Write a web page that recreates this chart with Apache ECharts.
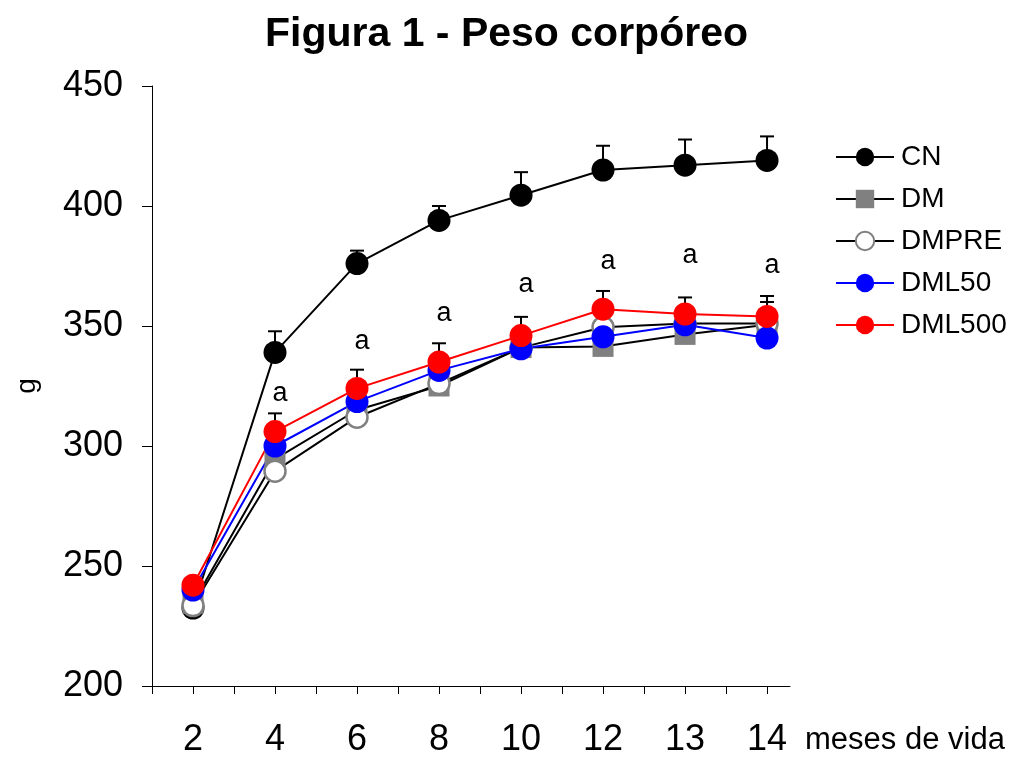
<!DOCTYPE html>
<html>
<head>
<meta charset="utf-8">
<title>Figura 1 - Peso corpóreo</title>
<script src="https://cdn.jsdelivr.net/npm/echarts@6/dist/echarts.min.js"></script>
<style>
  html, body { margin: 0; padding: 0; background: #fff; }
  #chart { width: 1013px; height: 758px; }
</style>
</head>
<body>
<div id="chart"></div>
<script>
// Age in months (x categories)
var months = ['2', '4', '6', '8', '10', '12', '13', '14'];

// Mean body weight (g) per group
var CN     = [232.5, 339, 376, 394, 404.5, 415, 417, 419];
var DM     = [234.5, 294.5, 315, 325, 341, 341.5, 346.5, 350.5];
var DMPRE  = [233.5, 289.5, 312, 326, 341, 349.5, 351, 351];
var DML50  = [240, 300, 318.5, 331.5, 340.5, 345.5, 350.5, 345];
var DML500 = [242, 306, 324, 335, 346, 357, 355, 354];

// Upper error (SEM) drawn above the mean
var errCN     = [null, 8.8, 5.4, 6, 9.6, 10.1, 10.7, 10];
var errDM     = [null, null, null, null, null, null, null, 9.5];
var errDML500 = [null, 7.6, 7.8, 7.8, 7.8, 7.6, 6.9, 8.5];

// Height (g) at which the significance letter "a" is written
var sigMark = [null, 322, 343.5, 355.3, 367.2, 376.8, 379.3, 375.1];

// y axis range
var yMin = 200, yMax = 450, yStep = 50;

var FONT = "'Liberation Sans', Arial, sans-serif";

function pairs(values) {
  return values.map(function (v, i) { return [i + 1, v]; });
}
function errData(means, errs) {
  var out = [];
  means.forEach(function (m, i) {
    if (errs[i] != null) out.push([i + 1, m, errs[i]]);
  });
  return out;
}

// Category boundaries and centres both carry a tick
var tickValues = [];
months.forEach(function (m, i) { tickValues.push(i + 0.5, i + 1); });
var labelValues = months.map(function (m, i) { return i + 1; });

function renderErr(params, api) {
  var x = api.value(0), y = api.value(1), e = api.value(2);
  var p0 = api.coord([x, y]);
  var p1 = api.coord([x, y + e]);
  var half = 7;
  var style = { stroke: '#000', lineWidth: 2 };
  return {
    type: 'group',
    children: [
      { type: 'line', shape: { x1: p0[0], y1: p0[1], x2: p1[0], y2: p1[1] }, style: style },
      { type: 'line', shape: { x1: p1[0] - half, y1: p1[1], x2: p1[0] + half, y2: p1[1] }, style: style }
    ]
  };
}

function errSeries(means, errs) {
  return {
    type: 'custom',
    renderItem: renderErr,
    data: errData(means, errs),
    encode: { x: 0, y: 1 },
    silent: true,
    z: 1
  };
}

function lineSeries(name, values, opts) {
  return {
    name: name,
    type: 'line',
    data: pairs(values),
    symbol: opts.symbol || 'circle',
    symbolSize: opts.size || 23,
    showAllSymbol: true,
    lineStyle: { color: opts.line, width: 2 },
    itemStyle: {
      color: opts.fill,
      borderColor: opts.border || opts.fill,
      borderWidth: opts.borderWidth || 0
    },
    emphasis: { disabled: true },
    z: 2
  };
}

var chart = echarts.init(document.getElementById('chart'), null, { renderer: 'canvas' });

chart.setOption({
  animation: false,
  backgroundColor: '#fff',
  title: [
    {
      text: 'Figura 1 - Peso corpóreo',
      left: 'center',
      top: 9,
      textStyle: { fontFamily: FONT, fontSize: 41, fontWeight: 'bold', color: '#000' }
    },
    {
      text: 'meses de vida',
      left: 800,
      top: 720,
      textStyle: { fontFamily: FONT, fontSize: 31, fontWeight: 'normal', color: '#000' }
    }
  ],
  legend: {
    orient: 'vertical',
    left: 830,
    top: 138,
    itemWidth: 58,
    itemHeight: 23,
    itemGap: 14,
    selectedMode: false,
    data: ['CN', 'DM', 'DMPRE', 'DML50', 'DML500'],
    textStyle: { fontFamily: FONT, fontSize: 28, color: '#000', lineHeight: 28, padding: [0, 0, 0, 2] }
  },
  grid: { left: 152, right: 223, top: 86, bottom: 72, containLabel: false },
  xAxis: {
    type: 'value',
    min: 0.5,
    max: 8.28,
    axisLine: { show: true, onZero: false, lineStyle: { color: '#000', width: 1 } },
    axisTick: { show: true, length: 8, customValues: tickValues, lineStyle: { color: '#000', width: 1 } },
    axisLabel: {
      customValues: labelValues,
      formatter: function (v) { return months[Math.round(v) - 1]; },
      fontFamily: FONT, fontSize: 36, color: '#000', margin: 36
    },
    splitLine: { show: false }
  },
  yAxis: {
    type: 'value',
    min: yMin,
    max: yMax,
    interval: yStep,
    name: 'g',
    nameLocation: 'middle',
    nameGap: 111,
    nameRotate: 90,
    nameTextStyle: { fontFamily: FONT, fontSize: 28, color: '#000' },
    axisLine: { show: true, lineStyle: { color: '#000', width: 1 } },
    axisTick: { show: true, length: 10, lineStyle: { color: '#000', width: 1 } },
    axisLabel: { fontFamily: FONT, fontSize: 36, color: '#000', margin: 29 },
    splitLine: { show: false }
  },
  series: [
    errSeries(CN, errCN),
    errSeries(DM, errDM),
    errSeries(DML500, errDML500),
    lineSeries('CN', CN, { line: '#000', fill: '#000' }),
    lineSeries('DM', DM, { line: '#000', fill: '#808080', symbol: 'rect', size: 21 }),
    lineSeries('DMPRE', DMPRE, { line: '#000', fill: '#fff', border: '#808080', borderWidth: 2.5, size: 21 }),
    lineSeries('DML50', DML50, { line: '#0000ff', fill: '#0000ff' }),
    lineSeries('DML500', DML500, { line: '#ff0000', fill: '#ff0000' }),
    {
      type: 'scatter',
      data: pairs(sigMark).filter(function (d) { return d[1] != null; }),
      symbolSize: 1,
      itemStyle: { color: '#fff', opacity: 1 },
      label: {
        show: true,
        position: 'inside',
        offset: [5, 0],
        formatter: 'a',
        fontFamily: FONT,
        fontSize: 27,
        color: '#000',
        opacity: 1,
        textBorderWidth: 0
      },
      silent: true,
      z: 3
    }
  ]
});
</script>
</body>
</html>
